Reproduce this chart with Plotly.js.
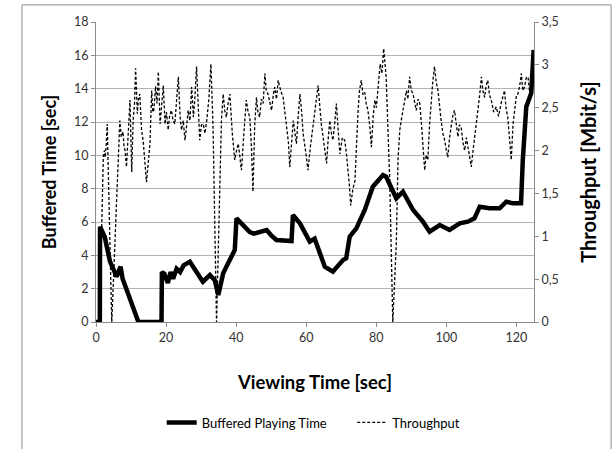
<!DOCTYPE html>
<html>
<head>
<meta charset="utf-8">
<script src="https://cdn.plot.ly/plotly-3.0.1.min.js"></script>
<style>html,body{margin:0;padding:0;background:#fff;}#chart{width:615px;height:449px;}</style>
</head>
<body>
<div id="chart"></div>
<script>
// Buffered playing time [sec] (left axis)
const bufTime = [0,1.1,1.15,2.5,4.0,5.9,7.0,7.6,12.1,18.7,18.8,19.5,20.5,21.3,22,23,24,25,26.8,28,30.5,32.5,33.9,34.9,36.3,37.7,39.6,40.1,42,43.9,45,46.7,48.7,50,51.5,55.8,56.2,58.2,61,62.4,65.3,67.6,70.5,71.4,72.4,74.3,76.7,79,81.9,82.8,85.7,87.6,90.5,93.3,95.2,98.1,100.9,103.8,106.1,108,109.5,112.3,115.2,117.1,119,121.3,121.8,122.8,124.2,124.9];
const bufValue = [0,0,5.72,5.1,3.62,2.72,3.32,2.6,0,0,3.0,2.9,2.34,3.0,2.6,3.2,3.0,3.4,3.62,3.2,2.42,2.82,2.5,1.62,2.92,3.52,4.32,6.22,5.82,5.4,5.3,5.42,5.52,5.2,4.92,4.86,6.42,5.92,4.82,5.0,3.32,3.02,3.72,3.82,5.12,5.62,6.72,8.12,8.82,8.72,7.42,7.82,6.72,6.02,5.42,5.82,5.52,5.92,6.02,6.22,6.92,6.82,6.82,7.22,7.12,7.12,9.72,12.92,13.72,16.32];

// Throughput [Mbit/s] (right axis)
const thrTime = [1.0,2.1,2.4,2.6,2.9,3.2,4.5,6.4,6.8,7.2,7.7,8.0,8.3,8.7,9.2,9.7,10.2,10.6,11.0,11.3,11.8,12.1,12.5,13.0,13.5,14.0,14.4,15.0,15.4,15.9,16.2,16.5,17.0,17.4,17.8,18.3,18.7,19.2,19.7,20.1,20.6,21.0,21.5,22.0,22.5,23.0,23.5,24.0,24.4,24.9,25.4,25.9,26.3,26.8,27.3,27.8,28.2,28.7,29.2,29.6,30.1,30.6,31.1,31.6,32.2,32.8,33.4,34.4,35.8,36.3,36.8,37.2,37.7,38.2,38.9,39.6,40.1,40.6,41.0,41.5,42.2,42.9,43.4,43.9,44.4,44.8,45.3,45.8,46.2,46.7,47.2,47.7,48.2,48.6,49.1,49.6,50.1,50.6,51.0,51.5,52.0,52.7,53.4,53.9,54.4,54.9,55.3,55.8,56.3,56.8,57.2,57.7,58.2,58.7,59.1,59.8,60.5,61.2,61.9,62.6,63.4,63.9,64.3,65.0,65.8,66.2,66.7,67.2,67.6,68.1,68.6,69.1,69.6,70.3,71.0,71.5,71.9,72.3,72.7,73.3,73.9,74.3,74.8,75.2,75.7,76.2,76.7,77.1,77.6,78.1,78.6,79.1,79.6,80.0,80.5,81.1,81.6,82.1,82.8,83.3,83.8,84.7,85.7,86.2,86.7,87.1,87.6,88.1,88.6,89.0,89.5,90.0,90.5,91.0,91.4,91.9,92.4,92.9,93.3,93.8,94.2,94.7,95.2,95.7,96.1,96.6,97.1,97.6,98.0,98.5,99.0,99.5,100.0,100.4,100.9,101.4,101.8,102.3,102.8,103.3,103.7,104.2,104.7,105.2,105.7,106.2,106.6,107.1,107.6,108.1,108.5,109.0,109.5,110.0,110.4,110.9,111.3,111.8,112.3,112.8,113.5,114.2,114.9,115.6,116.1,116.6,117.0,117.5,118.0,118.5,119.0,119.5,120.0,120.4,120.9,121.4,121.8,122.3,122.8,123.3,123.7,124.2,124.6,124.9];
const thrValue = [0,1.94,2.00,1.92,2.05,2.31,0,2.08,2.35,2.16,2.22,2.05,2.00,1.81,2.20,2.59,1.75,2.35,2.55,2.96,2.43,2.60,2.66,2.24,2.10,1.81,1.63,1.90,2.08,2.70,2.45,2.47,2.75,2.55,2.92,2.31,2.55,2.76,2.31,2.45,2.24,2.40,2.47,2.35,2.31,2.60,2.86,2.40,2.24,2.35,2.12,2.30,2.47,2.35,2.74,2.39,2.60,2.98,2.45,2.12,2.30,2.31,2.20,2.35,2.60,3.01,2.28,0,2.35,2.66,2.45,2.39,2.55,2.66,2.20,1.89,2.00,2.08,1.95,1.77,2.20,2.59,2.45,2.39,2.00,1.52,2.30,2.62,2.45,2.39,2.60,2.55,2.90,2.70,2.66,2.55,2.47,2.65,2.74,2.60,2.82,2.70,2.62,2.45,2.28,2.10,1.81,2.15,2.35,2.20,2.08,2.40,2.66,2.45,2.20,2.00,1.77,2.05,2.28,2.50,2.76,2.50,2.31,2.10,1.85,2.10,2.35,2.20,2.12,2.30,2.55,2.25,1.96,2.15,2.12,1.95,1.81,1.60,1.36,1.55,1.65,2.10,2.47,2.70,2.82,2.65,2.68,2.55,2.47,2.30,2.04,2.40,2.59,2.50,2.70,3.01,2.90,3.19,2.86,2.30,1.69,0,0.91,1.90,2.24,2.35,2.47,2.55,2.70,2.60,2.86,2.70,2.66,2.55,2.47,2.60,2.55,2.30,2.04,1.77,1.95,1.89,2.30,2.62,2.80,2.98,2.80,2.70,2.50,2.35,2.20,2.12,2.00,1.92,2.15,2.31,2.40,2.47,2.30,2.16,2.30,2.28,2.10,2.00,2.15,2.04,1.95,1.81,2.00,2.16,2.30,2.47,2.65,2.86,2.70,2.62,2.75,2.82,2.65,2.59,2.45,2.51,2.40,2.55,2.62,2.70,2.50,2.39,2.15,1.89,2.30,2.51,2.65,2.66,2.75,2.90,2.70,2.74,2.85,2.86,2.70,2.62,2.80,2.86];

const leftTicks = [0,2,4,6,8,10,12,14,16,18];
const rightTicks = [0,0.5,1,1.5,2,2.5,3,3.5];
const xTicks = [0,20,40,60,80,100,120];

const FONT = 'Lato, "Open Sans", sans-serif';
const traces = [
  {x: bufTime, y: bufValue, type: 'scatter', mode: 'lines', name: 'Buffered Playing Time',
   line: {color: '#000', width: 4.5}, yaxis: 'y', legend: 'legend'},
  {x: thrTime, y: thrValue, type: 'scatter', mode: 'lines', name: 'Throughput',
   line: {color: '#000', width: 1.3, dash: '3px,2px'}, yaxis: 'y2', legend: 'legend2'}
];
const axisCommon = {showline: true, linecolor: '#8c8c8c', linewidth: 1, ticks: 'outside', ticklen: 4,
  tickcolor: '#8c8c8c', tickfont: {family: FONT, size: 12.5, color: '#333'}, zeroline: false};
const legendFont = {family: FONT, size: 13, color: '#000'};
const layout = {
  width: 615, height: 449,
  margin: {l: 96, r: 81, t: 22, b: 127, autoexpand: false},
  paper_bgcolor: '#fff', plot_bgcolor: '#fff',
  separators: ', ',
  showlegend: true,
  legend: {orientation: 'h', x: 0.150, xanchor: 'left', y: -0.335, yanchor: 'middle', font: legendFont},
  legend2: {orientation: 'h', x: 0.585, xanchor: 'left', y: -0.335, yanchor: 'middle', font: legendFont},
  xaxis: Object.assign({}, axisCommon, {range: [0, 125], tickvals: xTicks, showgrid: false,
    title: {text: 'Viewing Time [sec]', font: {family: FONT, size: 18.5, color: '#000', weight: 'bold'}, standoff: 32}}),
  yaxis: Object.assign({}, axisCommon, {range: [0, 18], tickvals: leftTicks, showgrid: true, gridcolor: '#b3b3b3',
    title: {text: 'Buffered Time [sec]', font: {family: FONT, size: 18, color: '#000', weight: 'bold'}, standoff: 12}}),
  yaxis2: Object.assign({}, axisCommon, {range: [0, 3.5], tickvals: rightTicks, overlaying: 'y', side: 'right', showgrid: false,
    title: {text: 'Throughput [Mbit/s]', font: {family: FONT, size: 20, color: '#000', weight: 'bold'}, standoff: 24}}),
  shapes: [
    {type: 'rect', xref: 'paper', yref: 'paper', x0: -0.169, x1: 1.176, y0: -0.5, y1: 1.057,
     line: {color: '#8c8c8c', width: 1}, layer: 'below'}
  ]
};
Plotly.newPlot('chart', traces, layout, {displayModeBar: false, staticPlot: true});
</script>
</body>
</html>
